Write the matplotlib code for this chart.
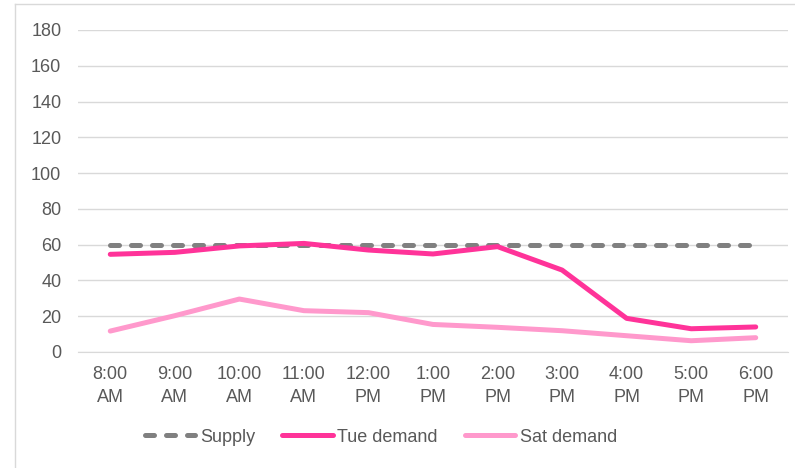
import matplotlib
matplotlib.use("Agg")
import matplotlib.pyplot as plt
from matplotlib.lines import Line2D

categories = ["8:00\nAM", "9:00\nAM", "10:00\nAM", "11:00\nAM", "12:00\nPM", "1:00\nPM",
              "2:00\nPM", "3:00\nPM", "4:00\nPM", "5:00\nPM", "6:00\nPM"]
supply = [60, 60, 60, 60, 60, 60, 60, 60, 60, 60, 60]
tue_demand = [54.6, 55.7, 59.3, 60.7, 57.0, 54.8, 58.9, 45.8, 18.8, 13.0, 14.0]
sat_demand = [11.7, 20.3, 29.6, 23.1, 22.0, 15.4, 13.8, 11.9, 9.1, 6.3, 8.0]
yticks = [0, 20, 40, 60, 80, 100, 120, 140, 160, 180]

plt.rcParams['font.family'] = ['Liberation Sans', 'DejaVu Sans']
W, H = 795, 468
FS = 13
fig = plt.figure(figsize=(W / 100, H / 100), dpi=100)
ax = fig.add_axes([78 / W, 1 - 352 / H, (788 - 78) / W, (352 - 30) / H])

DASH = (0, (1.8, 2.4))
x = list(range(len(categories)))
ax.plot(x, supply, color="#808080", lw=3.6, ls=DASH, dash_capstyle="round",
        label="Supply", zorder=3)
ax.plot(x, tue_demand, color="#FF3399", lw=3.6, solid_capstyle="round", label="Tue demand", zorder=4)
ax.plot(x, sat_demand, color="#FF99CC", lw=3.6, solid_capstyle="round", label="Sat demand", zorder=3)

ax.set_xlim(-0.5, len(categories) - 0.5)
ax.set_ylim(0, 180)
ax.set_yticks(yticks)
ax.set_xticks(x)
ax.set_xticklabels(categories)
ax.grid(axis="y", color="#D9D9D9", lw=1)
ax.set_axisbelow(True)
for s in ["top", "right", "left"]:
    ax.spines[s].set_visible(False)
ax.spines["bottom"].set_color("#D9D9D9")
ax.tick_params(axis="both", length=0, colors="#595959", labelsize=FS)
ax.tick_params(axis="y", pad=12)
ax.tick_params(axis="x", pad=10)
for t in ax.get_xticklabels():
    t.set_linespacing(1.45)

handles = [
    Line2D([], [], color="#808080", lw=3.6, ls=DASH, dash_capstyle="round"),
    Line2D([], [], color="#FF3399", lw=3.6, solid_capstyle="round"),
    Line2D([], [], color="#FF99CC", lw=3.6, solid_capstyle="round"),
]
leg = fig.legend(handles, ["Supply", "Tue demand", "Sat demand"], loc="center",
                 bbox_to_anchor=(381 / W, 1 - 437 / H), ncol=3, frameon=False,
                 fontsize=FS, handlelength=2.8, handletextpad=0.25, columnspacing=1.5)
for t in leg.get_texts():
    t.set_color("#595959")

# chart border (top and left visible)
fig.add_artist(Line2D([15 / W, 15 / W], [0, 1 - 4 / H], transform=fig.transFigure, color="#D9D9D9", lw=1))
fig.add_artist(Line2D([15 / W, 1], [1 - 4 / H, 1 - 4 / H], transform=fig.transFigure, color="#D9D9D9", lw=1))

fig.savefig("out.png", dpi=100)
